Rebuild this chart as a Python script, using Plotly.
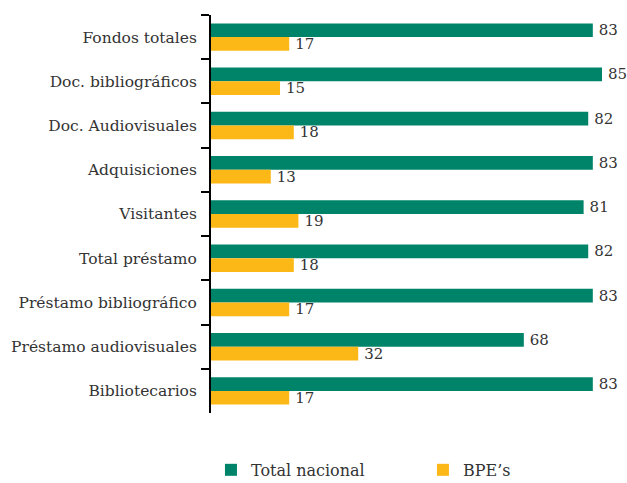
import plotly.graph_objects as go

categories = ["Fondos totales", "Doc. bibliográficos", "Doc. Audiovisuales", "Adquisiciones",
              "Visitantes", "Total préstamo", "Préstamo bibliográfico",
              "Préstamo audiovisuales", "Bibliotecarios"]
total_nacional = [83, 85, 82, 83, 81, 82, 83, 68, 83]
bpes = [17, 15, 18, 13, 19, 18, 17, 32, 17]

FONT = "DejaVu Serif"
TXT = "#333333"
GREEN = "#008469"
YELLOW = "#fbb817"
FS = 15.5
VFS = 15

fig = go.Figure()
fig.add_trace(go.Bar(y=categories, x=total_nacional, orientation="h", name="Total nacional",
                     marker=dict(color=GREEN, line=dict(width=0)),
                     texttemplate="\u2009%{x}", textposition="outside", cliponaxis=False,
                     constraintext="none",
                     textfont=dict(family=FONT, size=VFS, color=TXT)))
fig.add_trace(go.Bar(y=categories, x=bpes, orientation="h", name="BPE’s",
                     marker=dict(color=YELLOW, line=dict(width=0)),
                     texttemplate="\u2009%{x}", textposition="outside", cliponaxis=False,
                     constraintext="none",
                     textfont=dict(family=FONT, size=VFS, color=TXT)))

fig.update_layout(
    width=627, height=483,
    margin=dict(l=211, r=0, t=15, b=70, autoexpand=False),
    paper_bgcolor="white", plot_bgcolor="white",
    barmode="group", bargap=0.38, bargroupgap=0,
    font=dict(family=FONT, size=FS, color=TXT),
    showlegend=True,
    legend=dict(orientation="h", x=-0.0001, y=-0.143, xanchor="left", yanchor="middle",
                entrywidth=167, entrywidthmode="pixels",
                font=dict(family=FONT, size=16, color=TXT), traceorder="normal"),
    xaxis=dict(range=[0, 90.43], visible=False, showgrid=False, zeroline=False, fixedrange=True),
    yaxis=dict(autorange="reversed", showline=True, linecolor="black", linewidth=2,
               ticks="outside", tickson="boundaries", ticklen=8, tickwidth=2, tickcolor="black",
               showgrid=False, ticklabelstandoff=9,
               tickfont=dict(family=FONT, size=FS, color=TXT)),
)

# remove the default 8px page margin so the 627x483 figure fills the window exactly
fig.write_html("out.html", config={"displayModeBar": False},
               post_script="document.body.style.margin='0';document.body.style.overflow='hidden';")
